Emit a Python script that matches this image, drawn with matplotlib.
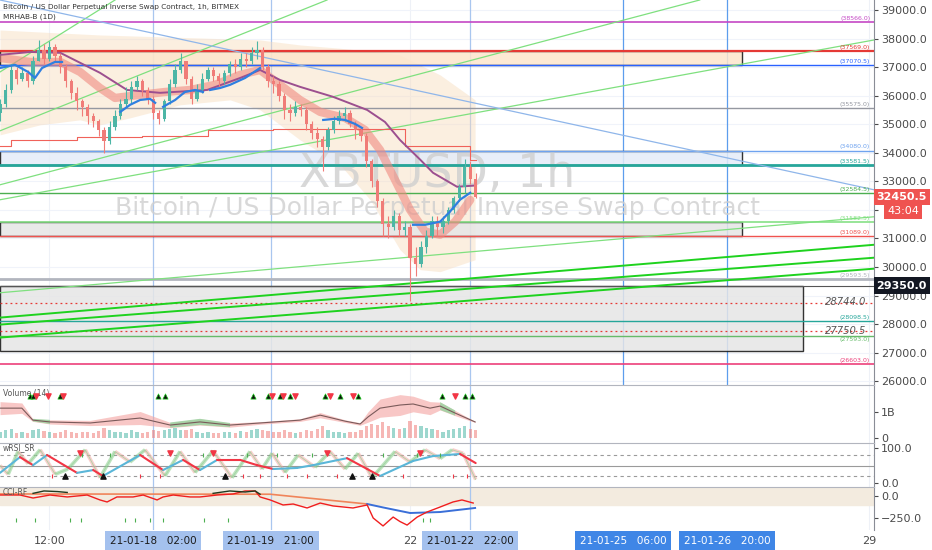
import matplotlib
matplotlib.use("Agg")
import matplotlib.pyplot as plt
import numpy as np

# ---- data: hours relative to 2021-01-22 00:00, one candle per 2h ----
hours = list(range(-150, 25, 2))
first_open = 35400
closes = [
    35700, 36200, 36900, 36600, 36800, 36500, 37200, 37600, 37300, 37700,
    37400, 37000, 36500, 36100, 35800, 35600, 35300, 35100, 34800, 34400,
    34900, 35300, 35700, 35900, 36300, 36500, 36200, 35900, 35400, 35200,
    35800, 36400, 36900, 37200, 36600, 35900, 36200, 36600, 36900, 36700,
    36500, 36800, 37100, 37000, 37300, 37200, 37500, 37600, 37000, 36500,
    36400, 36000, 35500, 35400, 35600, 35500, 35000, 34700, 34500, 34200,
    34800, 35100, 35300, 35400, 35000, 34800, 34600, 33700, 33000, 32300,
    31500, 31400, 31800, 31300, 31400, 30300, 30100, 30700, 31100, 31600,
    31400, 31600, 32000, 32400, 32800, 33500, 33100, 32450]
highs = [
    35900, 36400, 37100, 37000, 37000, 36900, 37400, 37950, 37800, 37900,
    37800, 37500, 37100, 36600, 36300, 35900, 35700, 35400, 35200, 34900,
    35100, 35500, 35900, 36300, 36500, 36700, 36600, 36300, 36000, 35500,
    35900, 36600, 37100, 37500, 37200, 36700, 36400, 36800, 37000, 37000,
    36800, 36900, 37200, 37300, 37500, 37500, 37700, 37900, 37700, 37100,
    36700, 36500, 36100, 35700, 35800, 35700, 35600, 35100, 34900, 34600,
    34900, 35300, 35500, 35600, 35500, 35100, 34900, 34700, 33800, 33100,
    32400, 31800, 32000, 31900, 31600, 31500, 30700, 30900, 31300, 31800,
    31800, 31800, 32100, 32500, 32900, 33800, 33700, 33300]
lows = [
    35100, 35600, 36100, 36400, 36500, 36300, 36400, 37200, 37100, 37200,
    37200, 36800, 36300, 35900, 35500, 35300, 35000, 34900, 34600, 34000,
    34300, 34800, 35200, 35600, 35700, 36200, 36000, 35700, 35200, 35000,
    35100, 35700, 36300, 36800, 36400, 35700, 35800, 36100, 36500, 36500,
    36300, 36400, 36700, 36800, 36900, 37000, 37100, 37300, 36900, 36300,
    36100, 35800, 35200, 35100, 35300, 35300, 34800, 34500, 34200, 33350,
    34100, 34700, 35000, 35100, 34900, 34500, 34400, 33500, 32800, 32100,
    31100, 31000, 31300, 31100, 31100, 28800, 29700, 30000, 30500, 31000,
    31100, 31200, 31500, 31900, 32300, 32600, 32900, 32400]
volume_b = [
    0.25, 0.30, 0.35, 0.20, 0.22, 0.18, 0.30, 0.35, 0.28, 0.25,
    0.20, 0.22, 0.30, 0.25, 0.20, 0.22, 0.25, 0.20, 0.28, 0.40,
    0.30, 0.25, 0.22, 0.20, 0.30, 0.25, 0.20, 0.22, 0.30, 0.28,
    0.30, 0.35, 0.38, 0.30, 0.32, 0.35, 0.22, 0.20, 0.25, 0.18,
    0.20, 0.22, 0.25, 0.20, 0.28, 0.22, 0.30, 0.35, 0.30, 0.28,
    0.25, 0.22, 0.30, 0.25, 0.20, 0.22, 0.30, 0.28, 0.35, 0.45,
    0.30, 0.25, 0.22, 0.20, 0.25, 0.22, 0.30, 0.45, 0.55, 0.50,
    0.60, 0.45, 0.40, 0.35, 0.38, 0.65, 0.50, 0.45, 0.40, 0.35,
    0.30, 0.25, 0.30, 0.35, 0.40, 0.45, 0.35, 0.30]
last_price = 32450.5
countdown = "43:04"

# overlay indicators (hour, price)
slow_ma_h = [-150.1, -139, -128, -113.5, -103.6, -91.5, -74.3, -62.2, -54.9, -47.6, -40.3, -28.2, -15.7, -9.2, -3.7, 3.7, 8.4, 17.2, 23.1]
slow_ma_p = [37430, 37530, 37500, 36800, 36200, 36100, 36200, 36620, 36900, 36550, 36310, 35960, 35500, 35080, 34450, 33760, 33300, 32810, 32850]
ema_band_h = [-150.1, -139, -128, -120.8, -113.5, -108, -98.8, -89.7, -80.5, -71.4, -62.2, -54.9, -47.6, -40.3, -32.9, -23.8, -16.5, -11, -5.5, 0, 5.5, 11, 16.5, 22]
ema_band_p = [37320, 37180, 37180, 36830, 36270, 35920, 36030, 36130, 36200, 36380, 36730, 36900, 36380, 35850, 35430, 35220, 34800, 34100, 33050, 32000, 31240, 31130, 31590, 32350]
fast_ma_segments = [
    ([-150.1, -144.6, -139.8, -137.3, -134.7, -130, -127.4], [36970, 37080, 36830, 36620, 36970, 37180, 37180]),
    ([-106.1, -102.5, -98.8, -95.2, -93.3], [35430, 35680, 35850, 35890, 35750]),
    ([-90.4, -86, -82.4, -78.7, -75.8], [35610, 35850, 36130, 36200, 36130]),
    ([-73.2, -69.5, -65.9, -60.4, -54.9], [36200, 36270, 36380, 36620, 36970]),
    ([-31.8, -27.5, -23.8, -20.1, -17.6], [35150, 35190, 35150, 35010, 34870]),
    ([1.1, 5.5, 11, 14.6, 18.3, 22], [31480, 31480, 31590, 31940, 32360, 32600]),
]
cloud_top_h = [-150.1, -113.5, -76.9, -54.9, -40.3, -18.3, -3.7, 11.0, 23.8]
cloud_top_p = [38300, 38126, 38021, 37951, 37777, 37602, 37427, 36727, 35853]
cloud_bot_h = [-150.1, -135.4, -120.8, -113.5, -102.5, -84.2, -65.9, -54.9, -40.3, -25.6, -14.6, -3.7, 3.7, 11.0, 23.8]
cloud_bot_p = [34629, 34979, 35154, 34979, 35224, 35679, 35853, 35503, 34454, 33580, 32356, 30607, 29908, 29838, 30257]
mrhab_h = [-150.1, -146, -122, -98, -74, -50, -2, 22, 24]
mrhab_p = [34245, 34450, 34560, 34590, 34800, 34840, 34245, 33750, 33750]

# drawings
thin_green = [(-150.1, 36830, -108.0, 39350), (-150.1, 34770, -30.4, 39350),
              (-150.1, 32880, 106.0, 39350), (-150.1, 32356, 169.8, 37950),
              (-150.1, 29100, 169.8, 31760)]
thick_green = [(-150.1, 28230, 169.8, 30780), (-150.1, 27985, 169.8, 30327),
               (-150.1, 27530, 169.8, 29943)]
blue_trend = (-150.1, 39350, 169.8, 32705)
levels = [38566.0, 37569.0, 37070.5, 35575.0, 34080.0, 33581.5, 32584.5,
          31582.5, 31089.0, 29593.5, 28098.5, 27593.0, 26603.0]
zones = [(37070.5, 37569.0), (33581.5, 34080.0), (31089.0, 31582.5), (27050.0, 29350.0)]
zone_end_h = [121.5, 121.5, 121.5, 143.9]
targets = [28744.0, 27750.5]
box_top_price = 29350.0
marked_times = [-94, -51, 22]
future_times = [78, 116]

# volume indicator
vol_h = [-150.1, -142.1, -138.1, -131.8, -117.1, -98.8, -87.8, -76.9, -65.9, -54.9, -40.3, -32.9, -23.8, -18.3, -15.4, -11.0, -3.7, 1.1, 7.3, 11.0, 16.5, 23.8]
vol_mid = [1.15, 1.15, 0.69, 0.62, 0.58, 0.77, 0.50, 0.62, 0.50, 0.58, 0.69, 0.88, 0.65, 0.54, 0.81, 1.15, 1.27, 1.31, 1.15, 1.23, 0.96, 0.62]
vol_half = [0.25, 0.20, 0.05, 0.08, 0.10, 0.25, 0.10, 0.12, 0.08, 0.05, 0.05, 0.10, 0.05, 0.05, 0.20, 0.35, 0.40, 0.30, 0.25, 0.15, 0.10, 0.02]
vol_green = [0, 0, 1, 1, 0, 0, 1, 1, 1, 0, 0, 0, 0, 0, 0, 0, 0, 0, 0, 1, 1, 0]
vol_up_sig = [-139.1, -138.0, -128.1, -92.2, -89.7, -57.5, -52.0, -47.6, -43.9, -31.1, -25.6, -19.0, 11.7, 20.1, 22.7]
vol_dn_sig = [-136.9, -132.5, -127.0, -50.5, -46.5, -42.1, -29.3, -20.9, 16.5]

# wRSI_SR
rsi_h = [-150.1, -142.8, -138.0, -132.9, -121.9, -116.0, -112.4, -98.8, -90.4, -83.1, -76.9, -70.6, -62.2, -56.0, -50.1, -41.4, -35.5, -23.1, -15.7, -11.0, 1.1, 8.4, 18.3, 24.0]
rsi_v = [29, 74, 51, 80, 29, 37, 20, 80, 37, 66, 37, 66, 66, 51, 40, 43, 51, 71, 40, 20, 63, 77, 83, 57]
rsi_fast_h = [-150.1, -147.1, -143.5, -139.8, -135.4, -129.9, -125.2, -118.9, -113.5, -108.0, -102.5, -97.0, -89.7, -84.2, -78.7, -72.1, -65.2, -58.6, -54.2, -50.5, -45.8, -41.0, -34.8, -29.3, -23.8, -19.0, -13.9, -5.5, 0.0, 5.5, 11.0, 15.4, 19.4, 24.0]
rsi_fast_v = [50, 25, 90, 55, 95, 25, 40, 95, 15, 90, 60, 95, 20, 90, 30, 92, 15, 90, 40, 85, 30, 80, 45, 90, 40, 85, 15, 90, 60, 95, 70, 95, 85, 10]
rsi_dn_sig = [-120.8, -87.8, -72.1, -30.4, 3.7]
rsi_up_sig = [-126.3, -112.4, -67.7, -21.2, -13.9]
rsi_top_ticks = [-120.1, -109.8, -75.8, -59.7, -48.7, -35.9, -9.9, 2.6, 11.0]
rsi_bot_ticks = [-131.0, -98.8, -91.5, -61.1, -54.9, -45.0, -37.7, -26.7, -2.6, 15.7, 20.9]

# CCI-RF
cci_h = [-150.1, -142.8, -138.0, -131.8, -125.5, -118.2, -113.5, -110.9, -107.3, -101.4, -97.7, -92.6, -90.4, -86.7, -80.5, -76.9, -70.6, -64.8, -60.4, -56.7, -54.9, -51.2, -46.5, -42.8, -37.7, -32.9, -28.2, -20.9, -15.7, -13.5, -9.9, -6.2, -3.7, -1.1, 2.6, 6.2, 11.0, 15.7, 19.0, 23.1]
cci_v = [11, 11, -23, 11, -11, 11, -45, -68, -11, -11, 11, -45, -11, 11, -11, -11, 11, 23, 57, 57, -11, -45, -102, -91, -136, -80, -113, -136, -102, -250, -340, -239, -290, -330, -239, -182, -125, -68, -45, -80]
cci_black_segments = [
    ([-138.0, -134.0, -129.0, -125.5], [30, 57, 50, 40]),
    ([-72.1, -66.0, -60.4, -56.7, -54.9], [30, 57, 45, 57, 20]),
]
cci_slow_up_h = [-150.1, -51.2, -15.7]
cci_slow_up_v = [23, 20, -91]
cci_slow_dn_h = [-15.7, -9.9, 0, 11, 23.8]
cci_slow_dn_v = [-91, -130, -193, -182, -136]
cci_ticks = [-144.2, -137.3, -124.5, -120.4, -104.3, -100.6, -95.2, -90.4, -75.4, -66.6, 4.8, 7.3]

time_labels = [(-132, "12:00"), (0, "22"), (168, "29")]
time_boxes = [(-94, "21-01-18   02:00", False), (-51, "21-01-19   21:00", False),
              (22, "21-01-22   22:00", False), (78, "21-01-25   06:00", True),
              (116, "21-01-26   20:00", True)]

# ---- layout ----
W, H = 932, 550
fig = plt.figure(figsize=(W / 100, H / 100), dpi=100)
fig.patch.set_facecolor("white")


def pane(y0, y1):
    return fig.add_axes([0, 1 - y1 / H, 874 / W, (y1 - y0) / H])


ax = pane(0, 385)
axv = pane(385, 443)
axr = pane(443, 487)
axc = pane(487, 530)

XMIN, XMAX = -150.1, 169.8
UP, DN = "#4db6a6", "#f07c78"
TXT = "#4a4a4a"

for a in (ax, axv, axr, axc):
    a.set_xlim(XMIN, XMAX)
    a.set_xticks([])
    a.yaxis.tick_right()
    a.tick_params(axis="y", length=3, pad=2, labelsize=8, colors=TXT)
    for s in ("left", "top", "bottom"):
        a.spines[s].set_visible(False)
    a.spines["right"].set_color("#8a8d96")
    for t in (-132, 0, 168):
        a.axvline(t, color="#eef1f7", lw=0.8, zorder=0)
    for t in marked_times:
        a.axvline(t, color="#a9c6ef", lw=0.9, zorder=1)
for a in (axv, axr, axc):
    a.spines["top"].set_visible(True)
    a.spines["top"].set_color("#b2b5be")

# ---- main pane ----
ax.set_ylim(25870, 39350)
ticks = list(range(26000, 39001, 1000))
ax.set_yticks(ticks)
# the 32000 label sits under the countdown tag, as on the original
ax.set_yticklabels(["" if t == 32000 else f"{t:.1f}" for t in ticks])
for t in ticks:
    ax.axhline(t, color="#f0f3fa", lw=0.8, zorder=0)
for t in future_times:
    ax.axvline(t, color="#5c9ded", lw=0.9, zorder=1)

ax.text(9.9, 33225, "XBTUSD, 1h", fontsize=33, color="#cfcfcf", alpha=0.8, ha="center",
        va="center", zorder=1.8)
ax.text(9.9, 32076, "Bitcoin / US Dollar Perpetual Inverse Swap Contract",
        fontsize=18, color="#cfcfcf", alpha=0.8, ha="center", va="center", zorder=1.8)

# cloud
ch = np.array(cloud_bot_h)
top_on_bot = np.interp(ch, cloud_top_h, cloud_top_p)
ax.fill_between(ch, cloud_bot_p, top_on_bot, color="#f7dcbc", alpha=0.45, lw=0, zorder=1)

# zones
zone_fill = ["#fde6cc", "#e4ecf8", "#e6e6e6", "#e6e6e6"]
for (lo, hi), end, fc in zip(zones, zone_end_h, zone_fill):
    ax.add_patch(plt.Rectangle((XMIN, lo), end - XMIN, hi - lo, fc=fc, ec="#111111",
                               lw=1.0, alpha=0.85, zorder=1.5))

level_colors = ["#c548c5", "#e53935", "#2962ff", "#9598a1", "#6fa3ef", "#26a69a", "#4caf50",
                "#86e086", "#ef5350", "#b2b5be", "#26a69a", "#66bb6a", "#ec407a"]
level_widths = [1.2, 1.6, 1.0, 1.0, 1.0, 2.0, 1.0, 1.2, 1.0, 2.0, 1.0, 1.0, 1.2]
for p, c, w in zip(levels, level_colors, level_widths):
    ax.axhline(p, color=c, lw=w, zorder=2)
    below = p == 27593.0
    ax.text(168.4, p - 40 if below else p + 40, f"({p:.1f})", fontsize=4.5, color=c,
            ha="right", va="top" if below else "bottom", zorder=6)
for p in targets:
    ax.axhline(p, color="#e53935", lw=0.9, ls=(0, (1.5, 2.5)), zorder=2)
    ax.text(167.0, p + 20, f"{p:.1f}", fontsize=7.2, style="italic", color="#555555",
            ha="right", va="center", zorder=6)
ax.axhline(box_top_price, color="#555555", lw=0.8, zorder=2)

for h0, p0, h1, p1 in thin_green:
    ax.plot([h0, h1], [p0, p1], color="#7fe07f", lw=0.9, zorder=2.2)
for h0, p0, h1, p1 in thick_green:
    ax.plot([h0, h1], [p0, p1], color="#1ed21e", lw=1.4, zorder=2.2)
ax.plot(blue_trend[0::2], blue_trend[1::2], color="#8fb6ea", lw=0.9, zorder=2.2)

ax.plot(ema_band_h, ema_band_p, color="#f08a80", lw=6, alpha=0.6,
        solid_capstyle="round", zorder=3)
ax.plot(slow_ma_h, slow_ma_p, color="#9c4f8f", lw=1.4, zorder=3.2)
ax.step(mrhab_h, mrhab_p, where="post", color="#f0625a", lw=0.8, zorder=3)

# candles
opens = [first_open] + closes[:-1]
cols = [UP if c >= o else DN for o, c in zip(opens, closes)]
ax.vlines(hours, lows, highs, colors=cols, lw=0.8, zorder=4)
bottoms = [min(o, c) for o, c in zip(opens, closes)]
heights = [max(abs(c - o), 30) for o, c in zip(opens, closes)]
ax.bar(hours, heights, bottom=bottoms, width=1.2, color=cols, zorder=4.2)

for sh, sp in fast_ma_segments:
    ax.plot(sh, sp, color="#2f7fe0", lw=1.6, zorder=4.5)

# price tags
ytf = ax.get_yaxis_transform()
ax.text(1.003, last_price, f"{last_price:.1f}", transform=ytf, fontsize=8, color="white",
        fontweight="bold", va="center", ha="left", zorder=10, clip_on=False,
        bbox=dict(fc="#ef5350", ec="none", pad=2.2))
ax.text(1.015, 31965, countdown, transform=ytf, fontsize=8, color="white", va="center",
        ha="left", zorder=10, clip_on=False, bbox=dict(fc="#ef5350", ec="none", pad=2.2))
ax.text(1.003, box_top_price, f"{box_top_price:.1f}", transform=ytf, fontsize=8,
        color="white", fontweight="bold", va="center", ha="left", zorder=10, clip_on=False,
        bbox=dict(fc="#131722", ec="none", pad=2.2))

fig.text(0.003, 0.993, "Bitcoin / US Dollar Perpetual Inverse Swap Contract, 1h, BITMEX",
         fontsize=5.3, color="#333333", va="top")
fig.text(0.003, 0.975, "MRHAB-B (1D)", fontsize=5.3, color="#333333", va="top")

# ---- volume pane ----
axv.set_ylim(-0.19, 2.04)
axv.set_yticks([0, 1])
axv.set_yticklabels(["0", "1B"])
axv.bar(hours, volume_b, width=1.2, color=cols, alpha=0.55, zorder=2)
vm = np.array(vol_mid)
vhw = np.array(vol_half)
axv.fill_between(vol_h, vm - vhw, vm + vhw, color="#f4a3a0", alpha=0.6, lw=0, zorder=1)
axv.fill_between(vol_h, vm - vhw, vm + vhw, where=np.array(vol_green) > 0,
                 color="#9fd3a3", alpha=0.9, lw=0, zorder=1.2)
axv.plot(vol_h, vol_mid, color="#7a5a5a", lw=0.8, zorder=3)
axv.scatter(vol_up_sig, [1.62] * len(vol_up_sig), marker="^", s=14, c="#111111",
            edgecolors="#19c419", linewidths=0.5, zorder=5)
axv.scatter(vol_dn_sig, [1.62] * len(vol_dn_sig), marker="v", s=14, c="#f23645", zorder=5)
axv.text(-149, 1.7, "Volume (14)", fontsize=5.5, color="#555555", va="center")

# ---- wRSI pane ----
axr.set_ylim(-11.4, 114.3)
axr.set_yticks([0, 100])
axr.set_yticklabels(["0.0", "100.0"])
for lv in (20, 80):
    axr.axhline(lv, color="#9a9a9a", lw=0.8, ls=(0, (3, 3)), zorder=1)
axr.axhline(50, color="#9a9a9a", lw=0.8, zorder=1)
for i in range(len(rsi_fast_h) - 1):
    up = rsi_fast_v[i + 1] > rsi_fast_v[i]
    axr.plot(rsi_fast_h[i:i + 2], rsi_fast_v[i:i + 2], color="#7cc87f" if up else "#f4a09b",
             lw=2.6, alpha=0.5, solid_capstyle="butt", zorder=2)
axr.plot(rsi_fast_h, rsi_fast_v, color="#9ad29c", lw=0.6, alpha=0.8, zorder=2.1)
for i in range(len(rsi_h) - 1):
    c = "#5ab6d8" if rsi_v[i + 1] > rsi_v[i] else "#f23645"
    axr.plot(rsi_h[i:i + 2], rsi_v[i:i + 2], color=c, lw=1.5, solid_capstyle="round", zorder=3)
axr.vlines(rsi_top_ticks, 74, 86, colors="#4caf50", lw=0.8, zorder=3)
axr.vlines(rsi_bot_ticks, 14, 26, colors="#f23645", lw=0.8, zorder=3)
axr.scatter(rsi_dn_sig, [87] * len(rsi_dn_sig), marker="v", s=14, c="#f23645", zorder=5)
axr.scatter(rsi_up_sig, [20] * len(rsi_up_sig), marker="^", s=14, c="#111111", zorder=5)
axr.text(-149, 100, "wRSI_SR", fontsize=5.5, color="#555555", va="center")

# ---- CCI pane ----
axc.set_ylim(-386, 102)
axc.set_yticks([0, -250])
axc.set_yticklabels(["0.0", "\u2212250.0"])
axc.axhspan(-100, 100, color="#f3ebdf", zorder=0.5)
axc.plot(cci_slow_up_h, cci_slow_up_v, color="#f0845a", lw=1.2, zorder=2)
axc.plot(cci_slow_dn_h, cci_slow_dn_v, color="#3a6fd8", lw=1.4, zorder=2)
axc.plot(cci_h, cci_v, color="#f01e1e", lw=1.0, zorder=3)
for sh, sv in cci_black_segments:
    axc.plot(sh, sv, color="#1f3a1f", lw=1.0, zorder=3.2)
axc.vlines(cci_ticks, -300, -255, colors="#4caf50", lw=0.8, zorder=3)
axc.text(-149, 40, "CCI-RF", fontsize=5.5, color="#555555", va="center")

# ---- time axis ----
xt = axc.get_xaxis_transform()
for h, s in time_labels:
    axc.text(h, -0.25, s, transform=xt, fontsize=8, color=TXT, ha="center", va="center")
for h, s, dark in time_boxes:
    axc.text(h, -0.25, s, transform=xt, fontsize=7.5, ha="center", va="center",
             color="white" if dark else "#1c1c1c", zorder=10,
             bbox=dict(fc="#3f86e6" if dark else "#a4c1ee", ec="none", pad=3.2))

fig.savefig("out.png", dpi=100, facecolor="white")
